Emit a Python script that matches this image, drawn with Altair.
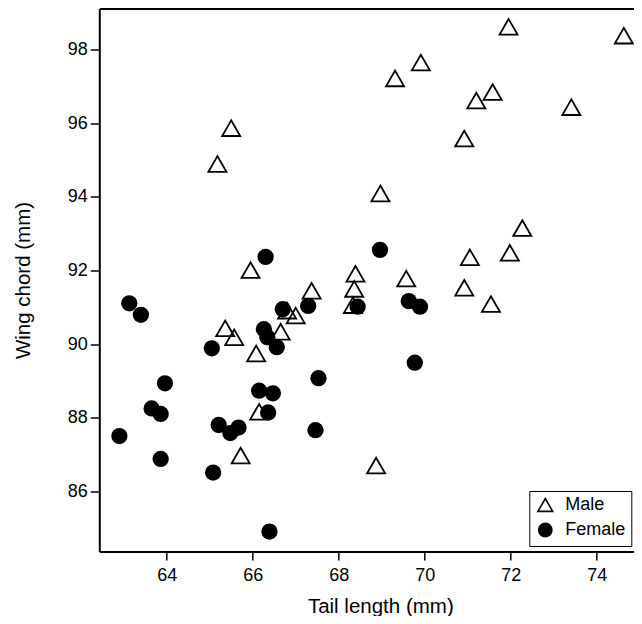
import altair as alt
import pandas as pd

# Male birds (open triangles)
male_tail = [65.50, 65.18, 65.95, 67.37, 71.95, 74.63, 69.91, 69.31, 71.58, 71.20,
             73.41, 70.92, 68.97, 72.27, 71.05, 71.98, 68.39, 69.57, 68.36, 70.92,
             68.33, 71.54, 68.87, 65.36, 65.57, 66.08, 66.65, 66.80, 67.00, 65.72,
             66.15]
male_wing = [95.86, 94.89, 92.01, 91.45, 98.61, 98.37, 97.64, 97.21, 96.84, 96.61,
             96.43, 95.58, 94.09, 93.15, 92.36, 92.48, 91.91, 91.78, 91.50, 91.53,
             91.06, 91.09, 86.71, 90.43, 90.19, 89.75, 90.34, 90.91, 90.78, 86.98,
             88.17]

# Female birds (filled circles)
female_tail = [66.30, 68.96, 68.44, 67.29, 69.63, 69.89, 69.77, 67.53, 67.46, 63.13,
               63.40, 65.05, 66.26, 66.34, 66.56, 66.70, 63.96, 63.65, 63.86, 62.90,
               63.86, 65.08, 65.21, 65.48, 65.67, 66.15, 66.47, 66.36, 66.39]
female_wing = [92.37, 92.56, 91.02, 91.04, 91.17, 91.02, 89.50, 89.08, 87.67, 91.11,
               90.80, 89.89, 90.41, 90.19, 89.92, 90.95, 88.94, 88.26, 88.11, 87.51,
               86.89, 86.52, 87.81, 87.59, 87.74, 88.74, 88.67, 88.15, 84.92]

sexes = ["Male", "Female"]
x_ticks = [64, 66, 68, 70, 72, 74]
y_ticks = [86, 88, 90, 92, 94, 96, 98]

df = pd.DataFrame({
    "tail": male_tail + female_tail,
    "wing": male_wing + female_wing,
    "sex": ["Male"] * len(male_tail) + ["Female"] * len(female_tail),
})

FONT = "Liberation Sans"

legend = alt.Legend(
    title=None, orient="none", legendX=430, legendY=482.5,
    strokeColor="black", fillColor="white", padding=5, rowPadding=4,
    symbolSize=220, symbolStrokeWidth=1.6, symbolOffset=2, labelOffset=11,
    labelFontSize=18, labelFont=FONT, labelColor="black",
)

xscale = alt.Scale(domain=[62.433, 74.867], nice=False, zero=False)
yscale = alt.Scale(domain=[84.379, 99.107], nice=False, zero=False)

shape = alt.Shape("sex:N", scale=alt.Scale(domain=sexes, range=["triangle-up", "circle"]), legend=legend)
fill = alt.Fill("sex:N", scale=alt.Scale(domain=sexes, range=["transparent", "black"]), legend=legend)
stroke = alt.Stroke("sex:N", scale=alt.Scale(domain=sexes, range=["black", "transparent"]), legend=legend)

yaxis = alt.Axis(values=y_ticks, title="Wing chord (mm)", titleX=-70, titleBaseline="alphabetic",
                 tickSize=9, labelPadding=3)

base = alt.Chart(df)

males = base.transform_filter(alt.datum.sex == "Male").mark_point(
    size=325, strokeWidth=1.8, opacity=1
).encode(
    x=alt.X("tail:Q", scale=xscale,
            axis=alt.Axis(values=x_ticks, title="Tail length (mm)", titleX=281, titleY=60.5,
                          titleAlign="center", titleBaseline="alphabetic",
                          tickSize=8.5, labelPadding=6)),
    y=alt.Y("wing:Q", scale=yscale, axis=yaxis),
    shape=shape, fill=fill, stroke=stroke,
)

females = base.transform_filter(alt.datum.sex == "Female").mark_point(
    size=265, strokeWidth=0, opacity=1
).encode(
    x=alt.X("tail:Q", scale=xscale,
            axis=alt.Axis(orient="top", labels=False, ticks=False, title=None, domain=True)),
    y=alt.Y("wing:Q", scale=yscale, axis=yaxis),
    shape=shape, fill=fill, stroke=stroke,
)

chart = alt.layer(males, females).resolve_axis(x="independent").properties(
    width=534.7, height=543,
    autosize=alt.AutoSizeParams(type="none"),
    padding={"left": 91.3, "top": 0.5, "right": 0, "bottom": 64},
).configure_view(stroke=None).configure_axis(
    grid=False, domainColor="black", domainWidth=2, tickColor="black", tickWidth=1.5,
    labelColor="black", titleColor="black", labelFont=FONT, titleFont=FONT,
    labelFontSize=18, titleFontSize=20.5, titleFontWeight="normal",
)

chart.save("out.html", embed_options={"renderer": "svg", "actions": False})
